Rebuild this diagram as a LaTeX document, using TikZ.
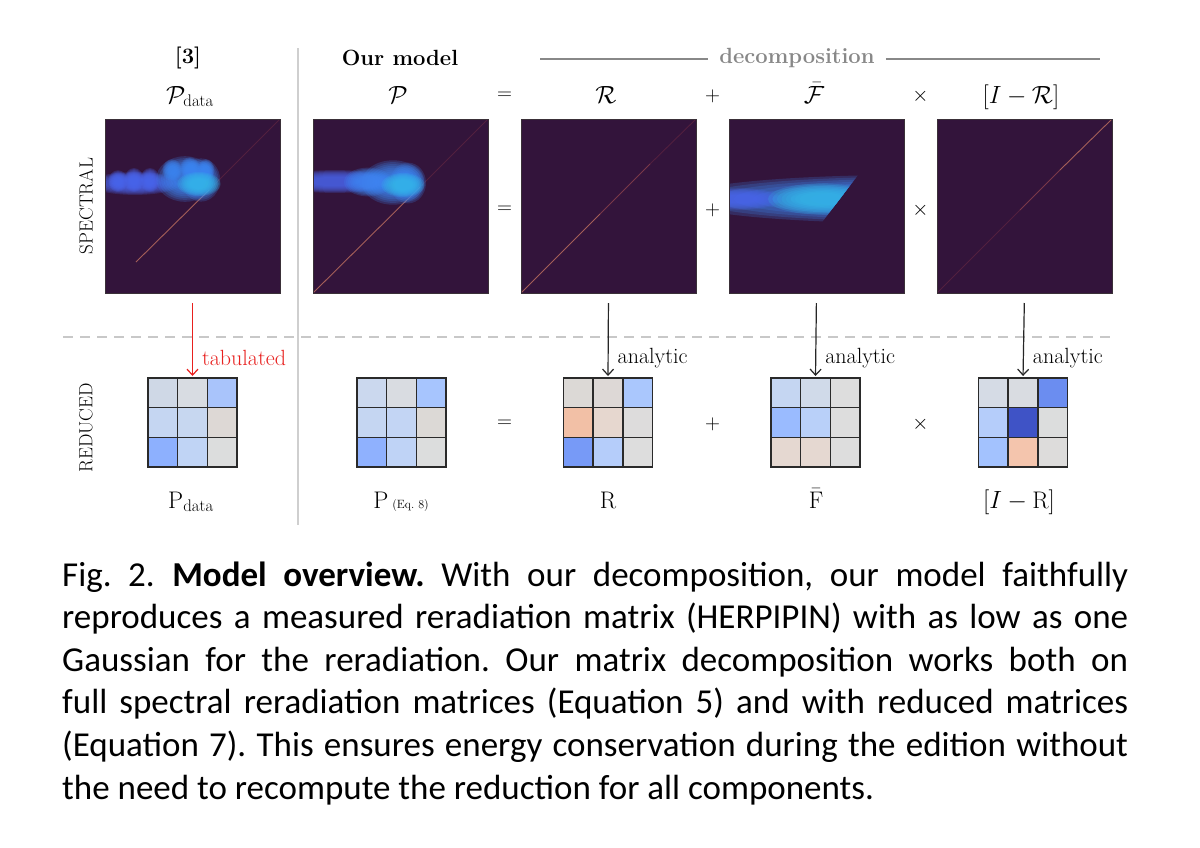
\documentclass[tikz,border=0pt]{standalone}
\usepackage{fontspec}
\newfontfamily\capfont{Carlito}
\usetikzlibrary{arrows.meta}
\definecolor{panelbg}{HTML}{33143B}
\definecolor{panelborder}{HTML}{3A3038}
\definecolor{bp}{HTML}{4A66EE}
\definecolor{bb}{HTML}{3D86F3}
\definecolor{bc}{HTML}{33B8E8}
\definecolor{diagb}{HTML}{A45E58}
\definecolor{diagm}{HTML}{7A3848}
\definecolor{diagf}{HTML}{52203F}
\definecolor{sepgray}{HTML}{CFCFCF}
\definecolor{dashgray}{HTML}{C8C8C8}
\definecolor{decogray}{HTML}{888888}
\definecolor{arrred}{HTML}{E8201E}
\definecolor{gridline}{HTML}{2A2A2A}
\newcommand\softell[5]{%
  \foreach \s in {1.2,1.1,1.0,0.9,0.8,0.7,0.6,0.5} {
    \fill[#1, opacity=0.21] (#2,#3) ellipse ({#4*\s} and {#5*\s});
  }%
}
\newcommand\redgrid[3]{%
  \node[gridbox] (#1) at (#2,422.5) {};
  \foreach \cc [count=\k from 0] in {#3} {
    \pgfmathtruncatemacro\gr{\k/3}
    \pgfmathtruncatemacro\gc{\k-3*\gr}
    \definecolor{tmpc}{HTML}{\cc}
    \fill[tmpc] ({#2-44.5+\gc*29.667},{378+\gr*29.667}) rectangle ++(29.667,29.667);
  }
  \foreach \i in {0,1,2,3} {
    \draw[gline] ({#2-44.5+\i*29.667},378) -- ++(0,89);
    \draw[gline] ({#2-44.5},{378+\i*29.667}) -- ++(89,0);
  }
}
\begin{document}
\begin{tikzpicture}[x=1pt,y=-1pt,
  panel/.style={draw=panelborder, line width=0.8pt, fill=panelbg, minimum width=175pt, minimum height=174pt, inner sep=0pt, outer sep=0pt},
  gridbox/.style={minimum width=89pt, minimum height=89pt, inner sep=0pt, outer sep=0pt},
  gline/.style={draw=gridline, line width=1.4pt, line cap=rect},
  hdr/.style={font=\fontsize{22}{26}\selectfont\bfseries, inner sep=1pt},
  mlab/.style={font=\fontsize{24}{28}\selectfont, anchor=base, inner sep=0.5pt},
  oper/.style={font=\fontsize{22}{26}\selectfont, inner sep=1pt},
  rowlab/.style={font=\fontsize{19}{22}\selectfont, rotate=90},
  arrlab/.style={font=\fontsize{22}{26}\selectfont, anchor=west, inner sep=1pt},
  downarr/.style={line width=1.2pt, -{Straight Barb[length=6pt,width=11pt]}, shorten <=10pt, shorten >=2pt},
  capline/.style={font=\capfont\fontsize{35}{42}\selectfont\frenchspacing, anchor=base west, inner sep=0pt},
  dg/.style={line width=0.9pt}
]
\useasboundingbox (0,0) rectangle (1200,847);
\fill[white] (0,0) rectangle (1200,847);

% header
\node[hdr] (h3) at (188,58) {[3]};
\node[hdr] (hour) at (400,58) {Our model};
\node[hdr, text=decogray] (deco) at (797,58) {decomposition};
\coordinate (dl) at (540,59);
\coordinate (dr) at (1100,59);
\draw[decogray, line width=1.5pt, shorten >=10pt] (dl) -- (deco.west |- dl);
\draw[decogray, line width=1.5pt, shorten <=10pt] (deco.east |- dr) -- (dr);

% separators
\coordinate (septop) at (298,48);
\coordinate (sepbot) at (298,525);
\draw[sepgray, line width=1.5pt] (septop) -- (sepbot);
\coordinate (dashl) at (63,337);
\coordinate (dashr) at (1112,337);
\draw[dashgray, line width=1.5pt, dash pattern=on 10pt off 7pt] (dashl) -- (dashr);

% top math labels
\node[mlab] (t1) at (190,103) {$\mathcal{P}_{\mathrm{data}}$};
\node[mlab] (t2) at (398,103) {$\mathcal{P}$};
\node[mlab] (t3) at (606,103) {$\mathcal{R}$};
\node[mlab] (t4) at (814,103) {$\bar{\mathcal{F}}$};
\node[mlab] (t5) at (1021,103) {$[I-\mathcal{R}]$};
\node[oper] (o1) at (504.5,96) {$=$};
\node[oper] (o2) at (712.5,96) {$+$};
\node[oper] (o3) at (920.5,96) {$\times$};

% row labels
\node[rowlab] (rspec) at (86,206) {SPECTRAL};
\node[rowlab] (rred) at (86,428) {REDUCED};

% panels
\node[panel] (s1) at (192.5,206) {};
\node[panel] (s2) at (400.5,206) {};
\node[panel] (s3) at (608.5,206) {};
\node[panel] (s4) at (816.5,206) {};
\node[panel] (s5) at (1024.5,206) {};

% panel 1 content
\begin{scope}
\clip (s1.south west) rectangle (s1.north east);
\draw[diagb, dg] (136,262) -- (209,190);
\draw[diagf, dg] (209,190) -- (280,119);
\softell{bp}{135}{183.5}{38}{9.5}
\softell{bp}{118}{181}{8}{9}
\softell{bp}{134}{180}{8}{10}
\softell{bp}{150}{180}{8}{10}
\softell{bb}{185}{179}{24}{19}
\softell{bb}{201}{180}{16}{18}
\softell{bb}{172}{170}{8}{9}
\softell{bb}{190}{168}{8}{9}
\softell{bb}{206}{170}{7}{9}
\softell{bc}{199}{184}{18}{10}
\end{scope}

% panel 2 content
\begin{scope}
\clip (s2.south west) rectangle (s2.north east);
\draw[diagb, dg] (313,293) -- (420,187);
\draw[diagf, dg] (420,187) -- (488,119);
\softell{bp}{335}{181.5}{50}{9.5}
\softell{bb}{368}{182}{20}{12}
\softell{bb}{393}{182.5}{26}{18.5}
\softell{bb}{408}{183}{15}{17}
\softell{bc}{403}{185}{18}{10}
\end{scope}

% panel 3 content
\begin{scope}
\clip (s3.south west) rectangle (s3.north east);
\draw[diagb, dg] (521,293) -- (600,214);
\draw[diagm, dg] (600,214) -- (650,164);
\draw[diagf, dg] (650,164) -- (696,119);
\end{scope}

% panel 4 content
\begin{scope}
\clip (729,119) -- (901,119) -- (767,294) -- (729,294) -- cycle;
\softell{bb}{905}{199}{190}{20}
\softell{bp}{740}{199}{35}{9}
\softell{bc}{822}{199}{45}{13}
\end{scope}

% panel 5 content
\begin{scope}
\clip (s5.south west) rectangle (s5.north east);
\draw[diagf, dg] (937,293) -- (1020,210);
\draw[diagm, dg] (1020,210) -- (1060,170);
\draw[diagb, dg] (1060,170) -- (1112,119);
\end{scope}

\draw[panelborder, line width=0.8pt] (s1.south west) rectangle (s1.north east);
\draw[panelborder, line width=0.8pt] (s2.south west) rectangle (s2.north east);
\draw[panelborder, line width=0.8pt] (s3.south west) rectangle (s3.north east);
\draw[panelborder, line width=0.8pt] (s4.south west) rectangle (s4.north east);
\draw[panelborder, line width=0.8pt] (s5.south west) rectangle (s5.north east);

% middle operators
\node[oper] (m1) at (504.5,210) {$=$};
\node[oper] (m2) at (712.5,210) {$+$};
\node[oper] (m3) at (920.5,210) {$\times$};

% reduced grids
\redgrid{g1}{192.5}{CFD8E6,D8DCE2,A9C4FB,C5D6F2,C7D7F0,DDD8D5,8DB0FE,C0D4F5,DCDDDD}
\redgrid{g2}{401.5}{CBD8EE,D9DCE1,A7C5FE,C5D6F2,C3D5F4,DCD9D6,8FB1FE,BFD3F6,DCDDDD}
\redgrid{g3}{608}{DCD9D6,DDD8D6,AAC7FD,F2C0A6,E6D7CF,DDDCDC,779AF7,B5CDFA,DDDDDD}
\redgrid{g4}{815.5}{C5D6F2,D0DAE9,DDDDDD,9ABBFF,B9D0F9,DDDDDD,E5D8D1,E5D8D1,DDDDDD}
\redgrid{g5}{1023}{D5DBE5,D9DCE1,6B8DF0,B5CDFA,3F53C6,DCDDDD,A3C2FE,F4C5AD,DDDCDB}

% arrows
\draw[downarr, arrred] (s1.south) -- (g1.north) node[arrlab, text=arrred, pos=0.76, xshift=8pt] {tabulated};
\draw[downarr, black!85] (s3.south) -- (g3.north) node[arrlab, text=black, pos=0.76, xshift=8pt] {analytic};
\draw[downarr, black!85] (s4.south) -- (g4.north) node[arrlab, text=black, pos=0.76, xshift=8pt] {analytic};
\draw[downarr, black!85] (s5.south) -- (g5.north) node[arrlab, text=black, pos=0.76, xshift=8pt] {analytic};

% bottom operators
\node[oper] (b1) at (504.5,424) {$=$};
\node[oper] (b2) at (712.5,424) {$+$};
\node[oper] (b3) at (920.5,424) {$\times$};

% bottom labels
\node[mlab] (l1) at (191,508) {$\mathrm{P}_{\mathrm{data}}$};
\node[mlab] (l2) at (401,508) {$\mathrm{P}$\,{\fontsize{12}{14}\selectfont (Eq.~8)}};
\node[mlab] (l3) at (608,508) {$\mathrm{R}$};
\node[mlab] (l4) at (816,508) {$\bar{\mathrm{F}}$};
\node[mlab] (l5) at (1019,508) {$[I-\mathrm{R}]$};

% caption
\node[capline] (c1) at (62,586) {\makebox[1066pt][s]{Fig.~2.\hspace{0.5em}\textbf{Model overview.} With our decomposition, our model faithfully}};
\node[capline] (c2) at (62,628.6) {\makebox[1066pt][s]{reproduces a measured reradiation matrix (HERPIPIN) with as low as one}};
\node[capline] (c3) at (62,671.2) {\makebox[1066pt][s]{Gaussian for the reradiation. Our matrix decomposition works both on}};
\node[capline] (c4) at (62,713.8) {\makebox[1066pt][s]{full spectral reradiation matrices (Equation 5) and with reduced matrices}};
\node[capline] (c5) at (62,756.4) {\makebox[1066pt][s]{(Equation 7). This ensures energy conservation during the edition without}};
\node[capline] (c6) at (62,799) {the need to recompute the reduction for all components.};
\end{tikzpicture}
\end{document}
